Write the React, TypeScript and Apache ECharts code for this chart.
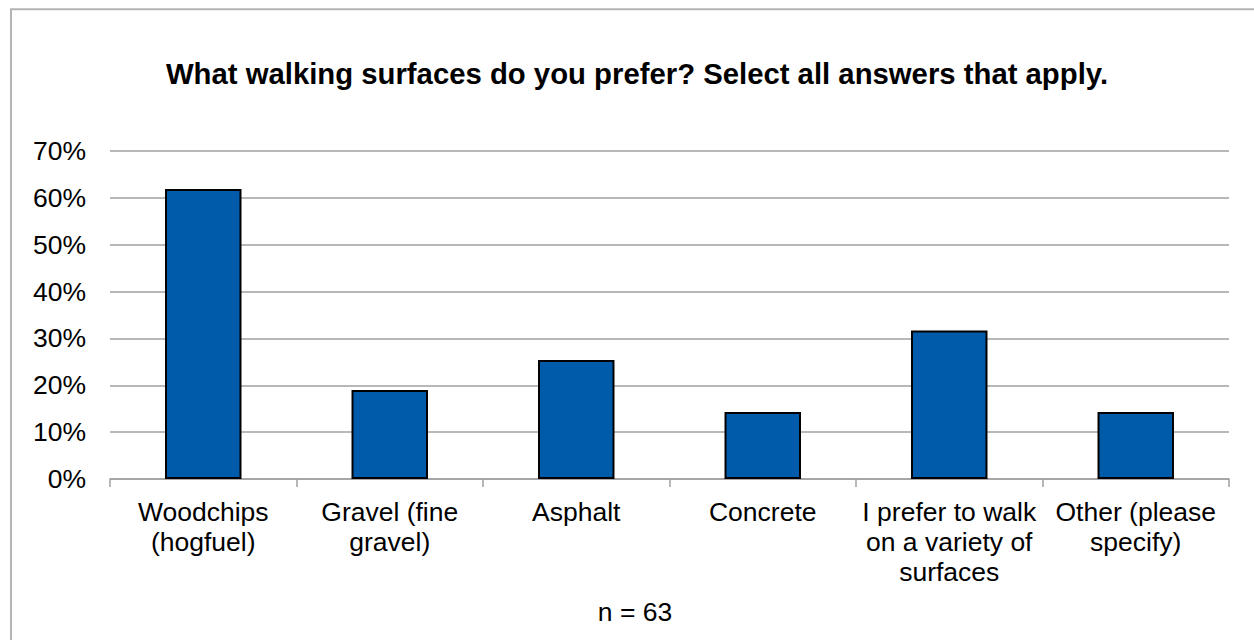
import React, { useEffect, useRef } from "react";
import * as echarts from "echarts";

const categories = [
  "Woodchips\n(hogfuel)",
  "Gravel (fine\ngravel)",
  "Asphalt",
  "Concrete",
  "I prefer to walk\non a variety of\nsurfaces",
  "Other (please\nspecify)",
];
const values = [61.9, 19.0, 25.4, 14.3, 31.7, 14.3];
const titleText = "What walking surfaces do you prefer? Select all answers that apply.";
const noteText = "n = 63";

const FONT = "'Liberation Sans', Arial, sans-serif";

export default function App() {
  const ref = useRef<HTMLDivElement>(null);
  useEffect(() => {
    if (!ref.current) return;
    const chart = echarts.init(ref.current, null, { renderer: "svg" });
    chart.setOption({
      animation: false,
      backgroundColor: "#ffffff",
      textStyle: { fontFamily: FONT },
      title: {
        text: titleText,
        left: 632,
        top: 54,
        textAlign: "center",
        textStyle: { fontFamily: FONT, fontSize: 29.3, fontWeight: "bold", color: "#000" },
      },
      graphic: [
        {
          type: "rect",
          shape: { x: 11, y: 9.3, width: 1400, height: 800 },
          style: { fill: "none", stroke: "#b4b4b4", lineWidth: 2 },
          silent: true,
        },
        {
          type: "text",
          x: 635,
          y: 612,
          style: {
            text: noteText,
            font: `26.5px ${FONT}`,
            fill: "#000",
            align: "center",
            verticalAlign: "middle",
          },
        },
      ],
      grid: { left: 110, right: 25, top: 151, bottom: 161 },
      xAxis: {
        type: "category",
        data: categories,
        boundaryGap: true,
        axisLine: { lineStyle: { color: "#a0a0a0", width: 1.5 } },
        axisTick: { show: true, alignWithLabel: false, length: 8, lineStyle: { color: "#a0a0a0", width: 1.5 } },
        axisLabel: {
          interval: 0,
          color: "#000",
          fontSize: 26.5,
          fontFamily: FONT,
          lineHeight: 30,
          margin: 18,
        },
      },
      yAxis: {
        type: "value",
        min: 0,
        max: 70,
        interval: 10,
        axisLine: { show: false },
        axisTick: { show: false },
        splitLine: { lineStyle: { color: "#a0a0a0", width: 1.5 } },
        axisLabel: {
          formatter: "{value}%",
          color: "#000",
          fontSize: 26.5,
          fontFamily: FONT,
          margin: 24,
        },
      },
      series: [
        {
          type: "bar",
          data: values,
          barWidth: "41%",
          itemStyle: { color: "#005BAA", borderColor: "#000", borderWidth: 2 },
        },
      ],
    });
    return () => chart.dispose();
  }, []);
  return (
    <div
      ref={ref}
      style={{ position: "fixed", left: 0, top: 0, width: 1254, height: 640 }}
    />
  );
}
